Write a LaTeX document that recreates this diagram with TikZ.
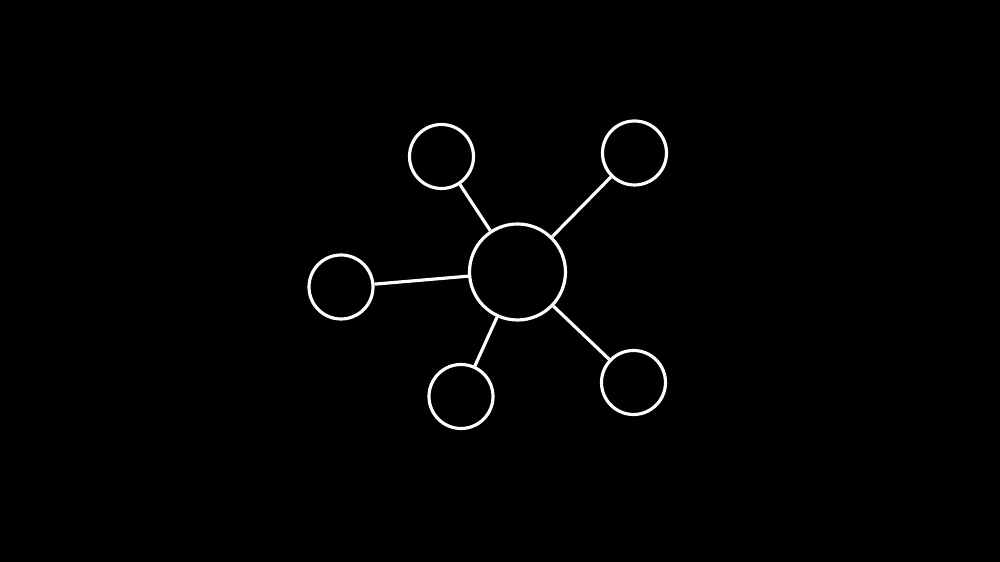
\documentclass[tikz,border=0pt]{standalone}
\usetikzlibrary{positioning}

\begin{document}
\begin{tikzpicture}[line width=1.8pt, white]
  \useasboundingbox [fill=black] (0,0) rectangle (20,11.24);

  \begin{scope}[every node/.style={draw, circle, inner sep=0pt}]
    \node [minimum size=1.92cm] (hub) at (10.35,5.80) {};

    \begin{scope}[every node/.append style={minimum size=1.28cm}, on grid]
      \node [above left=2.31cm and 1.52cm of hub] (topl) {};
      \node [above right=2.38cm and 2.34cm of hub] (topr) {};
      \node [below left=0.30cm and 3.53cm of hub] (left) {};
      \node [below left=2.49cm and 1.13cm of hub] (botl) {};
      \node [below right=2.21cm and 2.32cm of hub] (botr) {};
    \end{scope}
  \end{scope}

  \foreach \sat in {topl,topr,left,botl,botr}
    \draw (hub) -- (\sat);

\end{tikzpicture}
\end{document}
